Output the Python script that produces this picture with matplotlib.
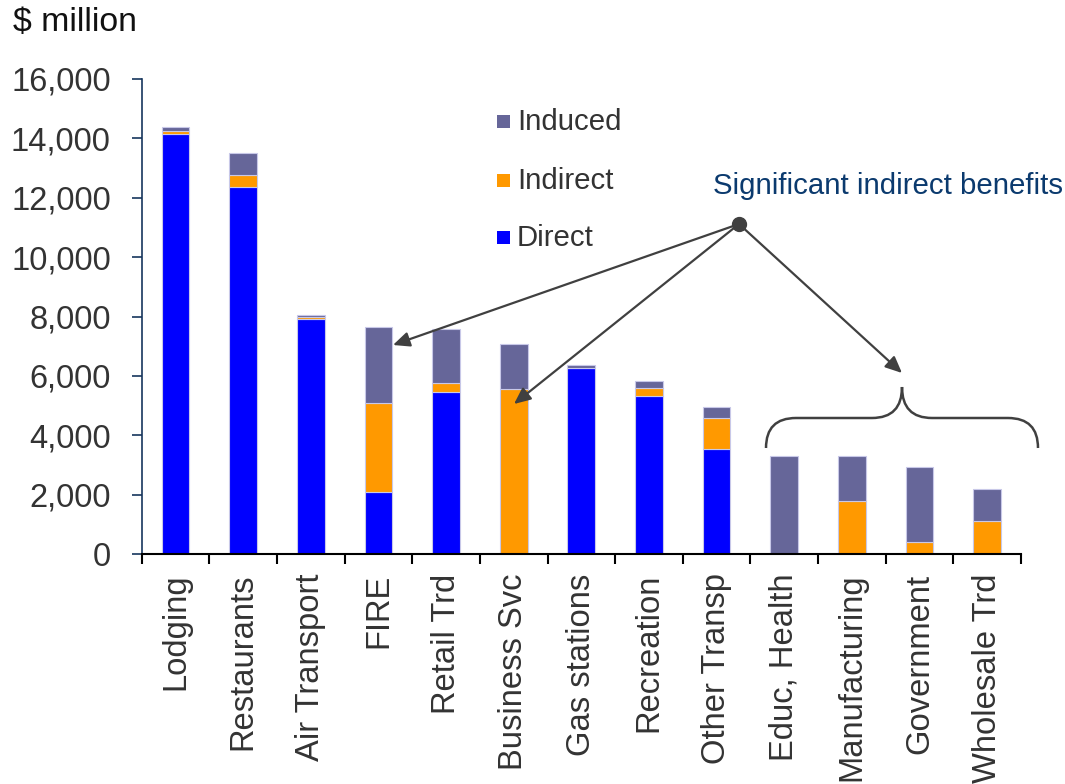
import matplotlib
matplotlib.use("Agg")
import matplotlib.pyplot as plt
from matplotlib.path import Path
from matplotlib.patches import PathPatch, Rectangle
import numpy as np

plt.rcParams['font.family'] = ['Liberation Sans', 'DejaVu Sans']

categories = ["Lodging", "Restaurants", "Air Transport", "FIRE", "Retail Trd",
              "Business Svc", "Gas stations", "Recreation", "Other Transp",
              "Educ, Health", "Manufacturing", "Government", "Wholesale Trd"]
direct = [14150, 12350, 7900, 2100, 5470, 0, 6280, 5320, 3540, 0, 0, 0, 0]
indirect = [100, 400, 80, 3000, 290, 5560, 0, 280, 1040, 0, 1780, 410, 1100]
induced = [130, 750, 60, 2550, 1810, 1510, 90, 230, 370, 3300, 1510, 2530, 1080]
yticks = [0, 2000, 4000, 6000, 8000, 10000, 12000, 14000, 16000]

c_direct = "#0000FF"
c_indirect = "#FF9900"
c_induced = "#666699"
edge = "#C8C8E8"
tcol = "#333333"

fig = plt.figure(figsize=(10.65, 7.84), dpi=100)
ax = fig.add_axes([141.7/1065, 1-554/784, (1021-141.7)/1065, (554-79)/784])

x = np.arange(len(categories))
d = np.array(direct); i_ = np.array(indirect); n = np.array(induced)
w = 0.41
ax.bar(x, d, w, color=c_direct, edgecolor=edge, linewidth=0.8, label="Direct")
ax.bar(x, i_, w, bottom=d, color=c_indirect, edgecolor=edge, linewidth=0.8, label="Indirect")
ax.bar(x, n, w, bottom=d+i_, color=c_induced, edgecolor=edge, linewidth=0.8, label="Induced")

ax.set_xlim(-0.5, len(categories)-0.5)
ax.set_ylim(0, 16000)
ax.set_yticks(yticks)
ax.set_yticklabels([f"{v:,}" for v in yticks], fontsize=23.5, color=tcol)
ax.set_xticks(x)
ax.set_xticklabels(categories, rotation=90, fontsize=23.6, color=tcol)
ax.tick_params(axis='x', length=0, pad=14)
ax.set_xticks(np.arange(-0.5, len(categories)), minor=True)
ax.tick_params(axis='x', which='minor', length=7.5, width=1.5, direction='out', color='black')
ax.tick_params(axis='y', length=7.2, width=1.2, direction='out', color='#17365D', pad=15)
for s in ['top', 'right']:
    ax.spines[s].set_visible(False)
ax.spines['left'].set_color('#17365D')
ax.spines['left'].set_linewidth(1.2)
ax.spines['bottom'].set_color('black')
ax.spines['bottom'].set_linewidth(1.5)

# overlay in pixel coordinates for annotations
ov = fig.add_axes([0, 0, 1, 1], facecolor='none')
ov.set_xlim(0, 1065)
ov.set_ylim(784, 0)
ov.axis('off')

fig.text(13/1065, 1-22/784, "$ million", fontsize=24.4, va='center', ha='left', color='#111111')

# legend (manual)
leg_items = [("Induced", c_induced, 122), ("Indirect", c_indirect, 181), ("Direct", c_direct, 238)]
for lab, col, yc in leg_items:
    ov.add_patch(Rectangle((497, yc-7), 13, 13, facecolor=col, edgecolor='none'))
    ov.text(517, yc, lab, fontsize=21.2, va='center', ha='left', color=tcol)

ov.text(713, 186, "Significant indirect benefits", fontsize=21.2, va='center', ha='left', color='#0B3A6E')

acol = '#404040'
dot = (739, 224)
ov.plot([dot[0]], [dot[1]], 'o', color=acol, markersize=10)
for tip in [(393, 345), (514, 404), (902, 373)]:
    ov.annotate("", xy=tip, xytext=dot,
                arrowprops=dict(arrowstyle='-|>,head_length=1.0,head_width=0.45',
                                color=acol, lw=1.6, shrinkA=0, shrinkB=0))

# brace
verts = [(766, 448), (766, 418), (796, 418),
         (872, 418),
         (902, 418), (902, 387),
         (902, 418), (932, 418),
         (1008, 418),
         (1038, 418), (1038, 448)]
codes = [Path.MOVETO, Path.CURVE3, Path.CURVE3,
         Path.LINETO,
         Path.CURVE3, Path.CURVE3,
         Path.CURVE3, Path.CURVE3,
         Path.LINETO,
         Path.CURVE3, Path.CURVE3]
ov.add_patch(PathPatch(Path(verts, codes), facecolor='none', edgecolor=acol, lw=1.8))

fig.savefig("out.png", dpi=100)
